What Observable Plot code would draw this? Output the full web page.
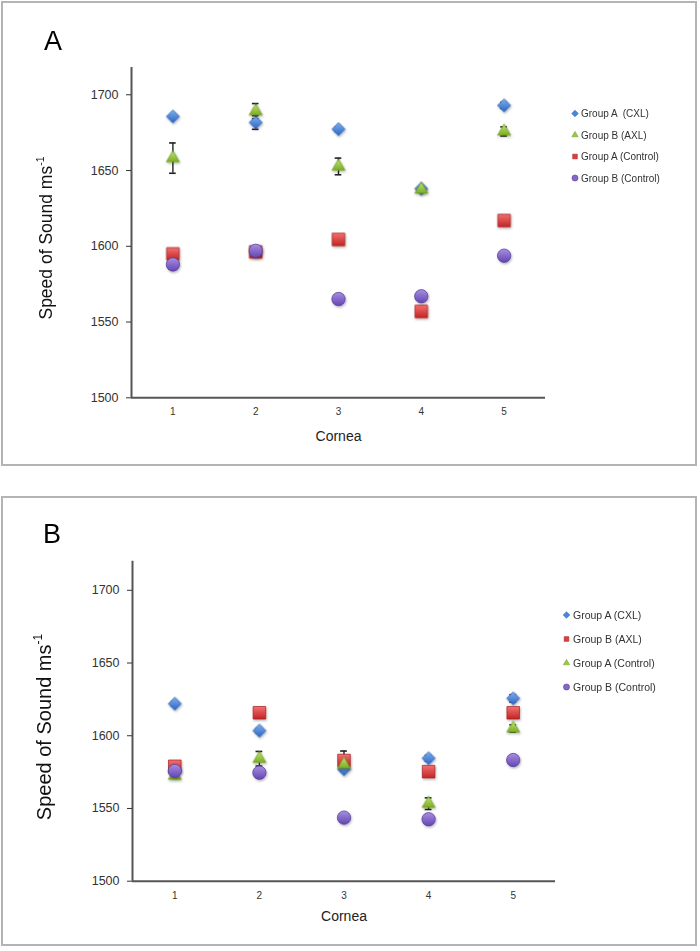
<!DOCTYPE html>
<html><head><meta charset="utf-8">
<script src="https://cdn.jsdelivr.net/npm/d3@7"></script>
<script src="https://cdn.jsdelivr.net/npm/@observablehq/plot@0.6"></script>
<style>
body{margin:0;background:#fff;font-family:"Liberation Sans",Arial,sans-serif;}
#wrap{position:relative;width:700px;height:951px;overflow:hidden;background:#fff;}
#wrap svg{position:absolute;left:0;}
</style></head>
<body><div id="wrap"></div>
<script>
// ---------- data ----------
const cornea = [1, 2, 3, 4, 5];
const yTicks = [1500, 1550, 1600, 1650, 1700];
const xLabel = "Cornea";
const yLabel = "Speed of Sound ms";
const yLabelSup = "-1";

// Panel A
const aLabels = ["Group A  (CXL)", "Group B (AXL)", "Group A (Control)", "Group B (Control)"];
const aCXL      = [1685.7, 1681.7, 1677.3, 1638.0, 1693.0];
const aCXLerr   = [1, 4.5, 1.5, 1, 2];
const aAXL      = [1658.2, 1689.2, 1652.7, 1637.5, 1675.8];
const aAXLerr   = [10, 5, 5.5, 1.5, 3];
const aCtlA     = [1595.0, 1596.3, 1604.5, 1557.0, 1617.0];
const aCtlAerr  = [1, 1, 1, 1, 1];
const aCtlB     = [1588.0, 1597.0, 1565.2, 1567.0, 1593.8];
const aCtlBerr  = [1, 1, 2.5, 1, 2.5];

// Panel B
const bLabels = ["Group A (CXL)", "Group B (AXL)", "Group A (Control)", "Group B (Control)"];
const bCXL      = [1622.0, 1603.5, 1577.0, 1584.5, 1625.7];
const bCXLerr   = [1.5, 1.5, 1.5, 2, 2.5];
const bAXL      = [1579.0, 1615.8, 1583.0, 1575.3, 1615.8];
const bAXLerr   = [1, 1, 6.5, 1, 1];
const bCtlA     = [1572.5, 1584.2, 1580.3, 1553.3, 1605.0];
const bCtlAerr  = [1, 5, 2, 4, 2.5];
const bCtlB     = [1575.8, 1574.6, 1543.7, 1542.6, 1583.3];
const bCtlBerr  = [1, 1, 1, 1, 1];

// ---------- styles ----------
const STY = {
  blue:   {sym: "diamond2", r: 5.9, fill: "#4a86dc", top: "#7eb0f0", bot: "#2c66c2", stroke: "#2a5aa8"},
  green:  {sym: "triangle2", r: 6.2, fill: "#9acb3c", top: "#c2e670", bot: "#7aae24", stroke: "#6a9420"},
  red:    {sym: "square2", r: 8.0, fill: "#e03c3c", top: "#f27070", bot: "#c42424", stroke: "#a02020"},
  purple: {sym: "circle", r: 6.7, fill: "#8566c9", top: "#a68ee2", bot: "#6446b2", stroke: "#523a96"}
};

const panels = [
  {
    id: "A", top: 0, height: 470, mL: 131, mR: 155, mT: 67, mB: 72.7, yMax: 1718,
    tickPad: 10, xlabDy: 43, legendLabels: aLabels,
    series: [
      {vals: aCXL, errs: aCXLerr, s: STY.blue},
      {vals: aAXL, errs: aAXLerr, s: STY.green},
      {vals: aCtlA, errs: aCtlAerr, s: STY.red},
      {vals: aCtlB, errs: aCtlBerr, s: STY.purple}
    ]
  },
  {
    id: "B", top: 490, height: 461, mL: 132, mR: 145, mT: 70.7, mB: 70.3, yMax: 1720,
    tickPad: 11, xlabDy: 40, legendLabels: bLabels,
    series: [
      {vals: bCXL, errs: bCXLerr, s: STY.blue},
      {vals: bAXL, errs: bAXLerr, s: STY.red},
      {vals: bCtlA, errs: bCtlAerr, s: STY.green},
      {vals: bCtlB, errs: bCtlBerr, s: STY.purple}
    ]
  }
];

const wrap = document.getElementById("wrap");

panels.forEach((p) => {
  const capHalf = 0.04;
  const tables = p.series.map(se => cornea.map((c, i) => ({c, v: se.vals[i], e: se.errs[i]})));
  const marks = [
    Plot.ruleX([0.5], {stroke: "#555", strokeWidth: 2}),
    Plot.ruleY([1500], {stroke: "#555", strokeWidth: 2}),
    Plot.axisY({ticks: yTicks, tickSize: 5, tickPadding: 8, tickFormat: "d", fontSize: 12.5, color: "#333", label: null}),
    Plot.axisX({ticks: cornea, tickSize: 0, tickPadding: p.tickPad, tickFormat: "d", fontSize: 10, color: "#333", label: null}),
    Plot.text([xLabel], {frameAnchor: "bottom", dy: p.xlabDy, fontSize: 14, fill: "#222"})
  ];
  tables.forEach(t => {
    marks.push(Plot.ruleX(t, {x: "c", y1: d => d.v - d.e, y2: d => d.v + d.e, stroke: "#222", strokeWidth: 1.4}));
    marks.push(Plot.ruleY(t, {y: d => d.v + d.e, x1: d => d.c - capHalf, x2: d => d.c + capHalf, stroke: "#222", strokeWidth: 1.6}));
    marks.push(Plot.ruleY(t, {y: d => d.v - d.e, x1: d => d.c - capHalf, x2: d => d.c + capHalf, stroke: "#222", strokeWidth: 1.6}));
  });
  p.series.forEach((se, k) => {
    marks.push(Plot.dot(tables[k], {x: "c", y: "v", symbol: se.s.sym, r: se.s.r, fill: se.s.fill, stroke: se.s.stroke, strokeWidth: 0.7}));
  });

  const svg = Plot.plot({
    width: 700, height: p.height,
    marginLeft: p.mL, marginRight: p.mR, marginTop: p.mT, marginBottom: p.mB,
    style: {fontFamily: "'Liberation Sans', Arial, sans-serif", background: "transparent", overflow: "visible"},
    x: {domain: [0.5, 5.5]},
    y: {domain: [1500, p.yMax]},
    marks
  });
  svg.style.top = p.top + "px";
  wrap.appendChild(svg);

  // gradients & shadow for markers
  const s = d3.select(svg);
  const defs = s.insert("defs", ":first-child");
  const f = defs.append("filter").attr("id", "sh" + p.id).attr("x", "-50%").attr("y", "-50%").attr("width", "200%").attr("height", "200%");
  f.append("feDropShadow").attr("dx", 0.8).attr("dy", 1.4).attr("stdDeviation", 1).attr("flood-color", "#000").attr("flood-opacity", 0.3);
  p.series.forEach((se, k) => {
    const g = defs.append("linearGradient").attr("id", "g" + p.id + k).attr("x1", 0).attr("y1", 0).attr("x2", 0).attr("y2", 1);
    g.append("stop").attr("offset", "0%").attr("stop-color", se.s.top);
    g.append("stop").attr("offset", "100%").attr("stop-color", se.s.bot);
  });
  s.selectAll('g[aria-label="dot"]').each(function(d, k) {
    d3.select(this).attr("fill", `url(#g${p.id}${k})`).attr("filter", `url(#sh${p.id})`);
  });
});

// ---------- overlay: frames, panel letters, y titles, legends ----------
const ov = d3.select(wrap).append("svg").attr("width", 700).attr("height", 951).style("top", "0px")
  .style("font-family", "'Liberation Sans', Arial, sans-serif");
const frames = [{x: 2, y: 2, w: 694, h: 463}, {x: 2, y: 497, w: 694, h: 448}];
frames.forEach(fr => ov.append("rect").attr("x", fr.x).attr("y", fr.y).attr("width", fr.w).attr("height", fr.h)
  .attr("fill", "none").attr("stroke", "#b4b4b4").attr("stroke-width", 2));

const letters = [{t: "A", x: 44, y: 50}, {t: "B", x: 43, y: 543}];
letters.forEach(l => ov.append("text").attr("x", l.x).attr("y", l.y).attr("font-size", 27).attr("fill", "#000").text(l.t));

const ytitles = [{cx: 52, cy: 238, fs: 17.5}, {cx: 51, cy: 727, fs: 20}];
ytitles.forEach(yt => {
  const t = ov.append("text").attr("transform", `translate(${yt.cx},${yt.cy}) rotate(-90)`)
    .attr("text-anchor", "middle").attr("font-size", yt.fs).attr("fill", "#111");
  t.append("tspan").text(yLabel);
  t.append("tspan").attr("font-size", yt.fs * 0.6).attr("dy", -yt.fs * 0.45).text(yLabelSup);
});

const symType = {diamond2: d3.symbolDiamond2 || d3.symbolSquare, triangle2: d3.symbolTriangle2 || d3.symbolTriangle, square2: d3.symbolSquare2 || d3.symbolSquare, circle: d3.symbolCircle};
const legends = [
  {p: panels[0], mx: 575, tx: 581, y0: 113.5, dy: 21.5, fs: 10},
  {p: panels[1], mx: 566.5, tx: 573, y0: 615, dy: 24, fs: 10.5}
];
legends.forEach(L => {
  L.p.series.forEach((se, k) => {
    const y = L.y0 + k * L.dy;
    ov.append("path").attr("transform", `translate(${L.mx},${y})`)
      .attr("d", d3.symbol(symType[se.s.sym], se.s.sym === "circle" ? 30 : 28)())
      .attr("fill", se.s.fill).attr("stroke", se.s.stroke).attr("stroke-width", 0.5);
    ov.append("text").attr("x", L.tx).attr("y", y + L.fs * 0.36).attr("font-size", L.fs)
      .attr("fill", "#333").attr("xml:space", "preserve").style("white-space", "pre").text(L.p.legendLabels[k]);
  });
});
</script>
</body></html>
